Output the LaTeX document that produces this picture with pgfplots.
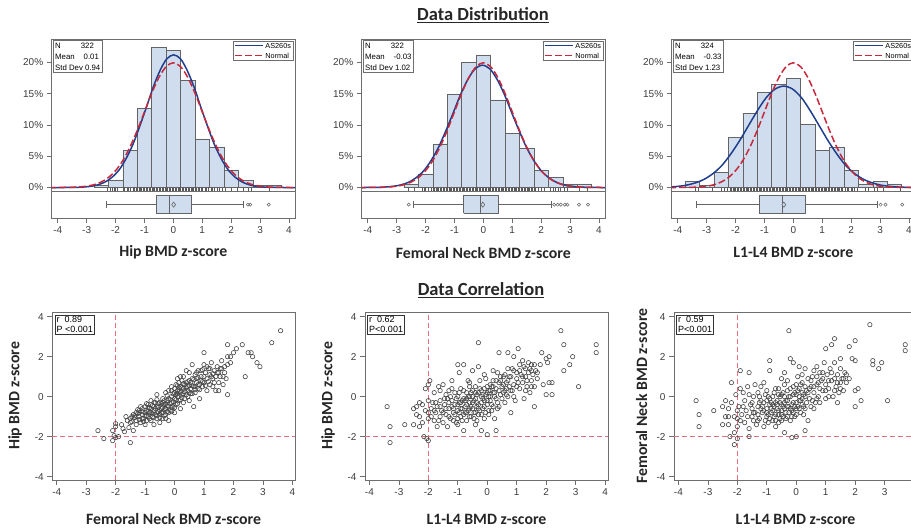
\documentclass[border=0pt]{standalone}
\usepackage{fontspec}
\setmainfont{Liberation Sans}
\newfontfamily\calib{Carlito}
\usepackage{pgfplots}
\usepackage{pgfplotstable}
\pgfplotsset{compat=1.18}

\definecolor{barfill}{RGB}{207,221,238}
\definecolor{baredge}{RGB}{100,100,100}
\definecolor{fitblue}{RGB}{32,62,140}
\definecolor{refred}{RGB}{200,40,60}
\definecolor{refline}{RGB}{232,110,120}
\definecolor{framegray}{RGB}{110,110,110}
\definecolor{ticktext}{RGB}{60,60,60}

% normal reference N(0,1), percent per 0.5 bin
\pgfplotstableread{
x y
-4.3 0.00
-4.0 0.01
-3.5 0.04
-3.25 0.10
-3.0 0.22
-2.75 0.45
-2.5 0.88
-2.25 1.59
-2.0 2.70
-1.75 4.31
-1.5 6.48
-1.25 9.13
-1.0 12.10
-0.75 15.06
-0.5 17.60
-0.25 19.33
0 19.95
0.25 19.33
0.5 17.60
0.75 15.06
1.0 12.10
1.25 9.13
1.5 6.48
1.75 4.31
2.0 2.70
2.25 1.59
2.5 0.88
2.75 0.45
3.0 0.22
3.25 0.10
3.5 0.04
4.0 0.01
4.3 0.00
}\normref

\pgfplotstableread{
x y
-4.22 0.00
-3.75 0.01
-3.28 0.04
-3.04 0.11
-2.81 0.23
-2.58 0.48
-2.34 0.94
-2.11 1.69
-1.87 2.87
-1.64 4.59
-1.40 6.89
-1.17 9.71
-0.93 12.87
-0.70 16.02
-0.46 18.72
-0.23 20.56
0.01 21.22
0.25 20.56
0.48 18.72
0.72 16.02
0.95 12.87
1.19 9.71
1.42 6.89
1.66 4.59
1.89 2.87
2.13 1.69
2.36 0.94
2.60 0.48
2.83 0.23
3.07 0.11
3.30 0.04
3.77 0.01
4.24 0.00
}\fitA

\pgfplotstableread{
x y
-4.30 0.00
-4.11 0.01
-3.60 0.04
-3.35 0.10
-3.09 0.22
-2.84 0.44
-2.58 0.86
-2.33 1.56
-2.07 2.65
-1.82 4.23
-1.56 6.35
-1.31 8.95
-1.05 11.86
-0.80 14.76
-0.54 17.26
-0.29 18.95
-0.03 19.56
0.23 18.95
0.48 17.26
0.74 14.76
0.99 11.86
1.25 8.95
1.50 6.35
1.76 4.23
2.01 2.65
2.27 1.56
2.52 0.86
2.78 0.44
3.03 0.22
3.29 0.10
3.54 0.04
4.05 0.01
4.30 0.00
}\fitB

\pgfplotstableread{
x y
-4.33 0.08
-4.02 0.18
-3.71 0.37
-3.41 0.72
-3.10 1.29
-2.79 2.20
-2.48 3.50
-2.18 5.27
-1.87 7.42
-1.56 9.84
-1.25 12.24
-0.95 14.31
-0.64 15.72
-0.33 16.22
-0.02 15.72
0.29 14.31
0.59 12.24
0.90 9.84
1.21 7.42
1.52 5.27
1.82 3.50
2.13 2.20
2.44 1.29
2.75 0.72
3.05 0.37
3.36 0.18
3.67 0.08
3.98 0.03
4.28 0.01
}\fitC

\pgfplotstableread{
fn hip
-2.6 -1.7
-2.4 -2.1
-2.1 -2.2
-2.05 -1.95
-2.0 -2.05
-1.9 -2.0
-2.1 -1.7
-2.0 -1.5
-2.0 -1.35
-1.8 -1.4
-1.75 -1.6
-1.7 -1.75
-1.5 -2.3
-1.4 -1.7
-1.5 -1.3
-1.5 -1.1
-1.45 -1.0
-1.4 -0.9
-1.3 -1.2
-1.3 -0.8
-1.25 -0.65
-1.2 -1.0
-1.2 -0.7
-1.15 -1.3
-1.1 -0.9
-1.1 -0.6
-1.05 -1.1
-1.0 -0.8
-1.0 -1.4
-1.0 -0.5
-0.95 -0.7
-0.9 -1.0
-0.9 -0.4
-0.85 -0.8
-0.8 -1.2
-0.8 -0.6
-0.8 -0.2
-0.75 -1.0
-0.7 -0.7
-0.7 -0.3
-0.7 -1.4
-0.65 -0.9
-0.6 -0.5
-0.6 -1.1
-0.6 0.1
-0.55 -0.75
-0.5 -0.3
-0.5 -0.9
-0.5 -1.3
-0.45 -0.6
-0.4 -0.1
-0.4 -0.8
-0.4 -1.1
-0.35 -0.4
-0.3 0.2
-0.3 -0.6
-0.3 -0.9
-0.25 -0.2
-0.2 -0.5
-0.2 0.3
-0.2 -1.2
-0.15 -0.7
-0.1 -0.3
-0.1 0.0
-0.1 0.5
-0.05 -0.5
0.0 -0.1
0.0 0.2
0.0 -0.8
0.05 0.6
0.05 -0.4
0.1 0.0
0.1 0.3
0.1 0.9
0.15 -0.2
0.2 0.5
0.2 -0.6
0.25 0.1
0.25 0.8
0.3 0.4
0.3 -0.3
0.35 0.6
0.4 0.1
0.4 1.3
0.45 0.5
0.5 0.2
0.5 0.8
0.5 -0.2
0.55 0.4
0.6 0.9
0.6 1.6
0.65 0.5
0.65 -0.5
0.7 0.2
0.7 1.1
0.75 0.7
0.8 0.4
0.8 1.3
0.85 -0.1
0.9 0.8
0.9 1.0
0.95 0.5
1.0 1.6
1.0 2.2
1.0 0.7
1.05 1.2
1.1 0.9
1.1 0.3
1.15 1.4
1.2 0.6
1.2 1.1
1.25 1.7
1.3 0.9
1.3 0.5
1.35 1.3
1.4 1.0
1.4 0.3
1.45 1.5
1.5 1.2
1.5 0.7
1.55 1.0
1.6 1.4
1.6 1.8
1.7 1.2
1.7 1.5
1.75 0.9
1.8 2.6
1.8 2.0
1.8 1.6
1.8 0.1
1.9 2.0
1.9 1.7
2.0 2.2
2.1 2.4
2.3 2.6
2.4 1.0
2.5 2.2
2.6 2.2
2.65 2.0
2.8 1.7
2.9 1.5
3.3 2.7
3.6 3.3
-1.2 -0.8
-1.1 -1.1
-1.0 -0.95
-0.9 -0.75
-0.85 -0.55
-0.75 -0.85
-0.7 -0.5
-0.65 -0.3
-0.55 -0.55
-0.5 -0.7
-0.45 -0.35
-0.4 -0.55
-0.35 -0.2
-0.3 -0.35
-0.25 -0.75
-0.2 -0.1
-0.15 -0.35
-0.1 -0.55
-0.05 0.15
0.0 0.4
0.05 -0.15
0.1 0.15
0.15 0.45
0.2 0.2
0.25 -0.05
0.3 0.65
0.35 0.25
0.4 0.45
0.45 0.75
0.55 0.15
0.6 0.55
0.7 0.5
0.75 0.9
0.85 0.6
-1.35 -1.05
-1.25 -0.85
-1.15 -0.5
-0.95 -1.2
-0.6 -0.8
-0.35 -0.95
0.15 0.7
0.3 1.0
0.45 0.0
0.8 0.95
1.3 1.15
1.2 1.4
1.0 1.0
0.95 1.35
1.5 0.3
1.65 1.0
0.5 1.2
0.2 1.0
-0.1 0.3
-1.45 -1.25
-1.35 -0.95
-1.3 -1.4
-1.2 -1.15
-1.1 -0.75
-1.05 -1.25
-0.95 -0.95
-0.9 -0.55
-0.85 -1.1
-0.8 -0.8
-0.75 -0.45
-0.7 -1.05
-0.65 -0.6
-0.6 -0.95
-0.55 -0.35
-0.5 -1.05
-0.45 -0.8
-0.4 -0.3
-0.35 -0.65
-0.3 -1.1
-0.25 -0.45
-0.2 -0.8
-0.15 -0.15
-0.1 -0.75
-0.05 -0.25
0.0 -0.55
0.05 0.1
0.1 -0.35
0.15 0.25
0.2 -0.15
0.25 0.45
0.3 0.15
0.35 -0.1
0.4 0.7
0.45 0.3
0.5 0.55
0.55 0.7
0.6 0.15
0.65 0.85
0.7 0.35
0.75 1.2
0.8 0.6
0.85 0.35
0.9 1.3
0.95 0.75
1.05 0.55
1.1 1.5
1.15 0.75
1.25 1.0
1.35 0.7
1.45 1.2
1.55 1.4
1.65 0.6
-1.6 -1.2
-1.55 -1.55
-1.65 -1.0
-0.95 -0.35
-0.6 -0.15
-0.25 0.05
0.1 0.55
}\scatA

\pgfplotstableread{
ll hip
-3.4 -0.5
-3.3 -1.5
-3.3 -2.3
-2.8 -1.4
-2.5 -1.4
-2.5 -0.6
-2.4 -0.5
-2.4 -0.9
-2.3 -1.0
-2.3 -1.5
-2.2 -0.4
-2.2 -1.3
-2.15 -2.0
-2.05 -2.1
-2.0 -2.2
-2.1 0.4
-2.0 0.6
-1.95 0.8
-2.0 -0.2
-2.0 -0.8
-2.0 -1.1
-1.9 -0.6
-1.85 -0.3
-1.8 -1.2
-1.8 0.2
-1.75 -0.8
-1.7 -1.5
-1.7 -0.5
-1.65 0.5
-1.6 -1.0
-1.6 -0.2
-1.55 -0.7
-1.5 0.6
-1.5 -1.3
-1.45 -0.4
-1.4 0.1
-1.4 -0.9
-1.35 -1.5
-1.3 -0.6
-1.3 0.3
-1.25 -1.1
-1.2 -0.2
-1.2 0.4
-1.15 -0.8
-1.1 -0.4
-1.1 0.2
-1.05 -1.3
-1.0 1.6
-1.0 -0.7
-1.0 0.0
-1.0 -1.4
-0.95 1.2
-0.95 -0.3
-0.9 -1.0
-0.9 0.4
-0.85 -0.6
-0.8 1.6
-0.8 -0.1
-0.8 -1.7
-0.75 -0.8
-0.7 0.2
-0.7 -0.4
-0.7 -1.2
-0.65 0.8
-0.6 -0.6
-0.6 0.0
-0.55 -1.0
-0.5 0.3
-0.5 -0.3
-0.5 1.3
-0.45 -0.8
-0.4 -0.1
-0.4 0.5
-0.4 -1.4
-0.35 -0.5
-0.3 2.7
-0.3 0.2
-0.3 -0.9
-0.3 1.5
-0.25 0.8
-0.2 -0.3
-0.2 -1.7
-0.2 0.0
-0.15 -0.6
-0.1 0.4
-0.1 -1.1
-0.05 0.9
0.0 -1.9
0.0 -0.2
0.0 0.2
0.05 -0.7
0.1 0.6
0.1 0.0
0.15 -0.4
0.2 0.8
0.2 0.2
0.25 -1.1
0.3 -1.7
0.3 0.4
0.3 -0.1
0.35 1.2
0.4 2.2
0.4 0.7
0.4 -0.5
0.45 0.1
0.5 0.5
0.55 1.0
0.6 -0.3
0.6 0.3
0.65 0.7
0.7 2.2
0.7 1.4
0.7 0.0
0.75 0.5
0.8 -0.8
0.8 1.0
0.85 0.3
0.9 2.0
0.9 1.3
0.9 0.6
0.95 -0.2
1.0 0.9
1.05 2.4
1.1 1.6
1.1 0.4
1.15 1.1
1.2 1.8
1.2 0.7
1.25 -0.1
1.3 1.4
1.3 1.0
1.35 0.5
1.4 1.7
1.4 1.2
1.45 0.2
1.5 1.6
1.5 0.8
1.55 1.1
1.6 1.6
1.6 -0.5
1.6 0.5
1.65 1.3
1.7 0.9
1.85 2.2
1.9 0.6
2.0 1.9
2.0 0.1
2.05 1.7
2.1 2.0
2.1 0.7
2.2 0.7
2.2 0.1
2.5 3.3
2.6 2.6
2.6 1.3
2.8 1.6
2.9 2.0
3.1 0.5
3.7 2.6
3.7 2.2
-1.3 -0.3
-1.2 -0.5
-1.1 -0.9
-1.0 -0.4
-0.9 -0.6
-0.85 -0.2
-0.8 -0.9
-0.75 -0.5
-0.7 -0.1
-0.65 -0.7
-0.6 -0.3
-0.55 0.2
-0.5 -0.6
-0.45 -0.2
-0.4 -0.8
-0.35 0.1
-0.3 -0.4
-0.25 -0.7
-0.2 0.3
-0.15 -0.1
-0.1 -0.5
-0.05 0.1
0.0 -0.4
0.05 0.3
0.1 -0.2
0.15 0.5
0.2 -0.5
0.25 0.2
-1.4 -0.6
-1.35 -0.1
-1.15 -1.2
-0.95 -0.8
-0.6 0.5
-0.35 -1.2
0.05 -0.9
0.35 -0.3
0.45 0.8
0.55 0.2
0.65 0.4
0.2 1.3
-0.1 1.1
-0.6 0.7
-1.6 -0.5
-1.8 -0.7
0.75 1.0
1.0 0.5
1.1 1.3
1.3 0.3
1.5 1.3
-1.9 -1.0
-1.75 -0.3
-1.65 -1.2
-1.5 -0.8
-1.45 -0.1
-1.3 -1.0
-1.25 0.0
-1.15 -0.6
-1.05 -0.1
-1.0 -1.1
-0.95 0.2
-0.9 -0.3
-0.85 -1.2
-0.8 0.3
-0.75 -0.2
-0.7 -0.8
-0.65 0.0
-0.6 -1.0
-0.55 -0.5
-0.5 0.0
-0.45 -1.1
-0.4 0.2
-0.35 -0.3
-0.3 -0.6
-0.25 0.4
-0.2 -0.9
-0.15 0.1
-0.1 -0.2
-0.05 -0.8
0.0 0.5
0.05 0.0
0.1 0.3
0.15 -0.7
0.2 0.5
0.25 0.0
0.3 0.8
0.35 -0.6
0.4 0.3
0.45 1.0
0.5 -0.1
0.55 0.6
0.6 1.1
0.65 0.1
0.7 0.8
0.8 0.3
0.85 1.4
0.9 0.0
1.0 1.2
1.05 0.7
1.2 1.0
1.25 1.5
1.35 0.8
1.45 1.4
1.5 0.5
1.7 1.2
1.8 1.6
-2.1 -0.7
-2.3 -0.3
-1.6 0.3
-1.2 0.8
}\scatB

\pgfplotstableread{
ll fn
-3.4 -0.2
-3.3 -0.9
-3.3 -1.5
-2.8 -0.7
-2.5 -0.5
-2.5 -1.4
-2.4 -1.0
-2.4 -0.2
-2.3 -1.4
-2.3 -0.6
-2.25 -2.0
-2.2 0.7
-2.2 -0.3
-2.1 -2.4
-2.1 -1.8
-2.05 0.1
-2.0 -2.1
-2.0 -1.5
-2.0 -1.1
-2.0 -0.7
-1.95 -0.5
-1.9 1.3
-1.9 0.4
-1.85 -0.9
-1.8 -0.5
-1.8 0.2
-1.75 -1.3
-1.7 -0.7
-1.65 0.5
-1.6 1.2
-1.6 -2.0
-1.6 -1.6
-1.55 -0.4
-1.5 -1.0
-1.45 0.0
-1.4 -0.8
-1.4 0.6
-1.35 -1.4
-1.3 -0.5
-1.3 0.2
-1.25 -1.1
-1.2 -0.2
-1.2 0.5
-1.15 -0.8
-1.1 -1.5
-1.1 -0.3
-1.05 0.1
-1.0 -1.0
-1.0 0.3
-1.0 -0.6
-0.95 -1.3
-0.9 1.8
-0.9 -0.4
-0.9 1.3
-0.85 -0.8
-0.8 0.0
-0.8 -1.2
-0.75 -0.5
-0.7 0.4
-0.7 -0.9
-0.7 -1.5
-0.65 -0.2
-0.6 -0.7
-0.6 0.1
-0.55 -1.1
-0.5 0.9
-0.5 -0.4
-0.5 -0.9
-0.45 0.2
-0.4 -1.8
-0.4 -0.6
-0.4 0.6
-0.35 -0.2
-0.3 -1.0
-0.3 0.3
-0.25 3.3
-0.25 -0.5
-0.2 1.9
-0.2 0.0
-0.2 -1.2
-0.15 -0.7
-0.1 1.7
-0.1 0.5
-0.1 -0.3
-0.05 -1.0
0.0 -2.0
-0.15 -2.05
0.0 0.1
0.0 -0.6
0.05 1.0
0.1 1.5
0.1 -0.2
0.1 0.4
0.15 -0.8
0.2 0.7
0.2 -0.4
0.25 0.1
0.3 1.4
0.3 -1.7
0.3 -0.6
0.35 0.3
0.4 -1.2
0.4 0.9
0.45 -0.1
0.5 0.5
0.5 -0.5
0.55 1.0
0.6 0.2
0.65 -0.3
0.7 1.5
0.7 0.6
0.75 0.0
0.8 1.2
0.8 -0.3
0.85 0.8
0.9 0.3
0.95 1.7
1.0 2.4
1.0 0.6
1.0 -0.1
1.05 1.1
1.1 0.4
1.15 1.4
1.2 2.6
1.2 0.8
1.25 0.0
1.3 2.9
1.3 1.7
1.35 0.5
1.4 -0.3
1.4 1.1
1.45 0.2
1.5 1.9
1.5 0.7
1.55 0.9
1.6 0.3
1.65 1.2
1.7 0.7
1.8 2.5
1.8 0.9
1.9 1.9
2.0 2.8
2.0 1.8
2.0 0.3
2.0 -0.5
2.1 0.4
2.2 -0.2
2.5 3.6
2.6 1.8
2.6 1.6
2.8 1.4
2.9 1.7
3.1 -0.2
3.7 2.6
3.7 2.3
-1.3 -0.9
-1.2 -0.6
-1.1 -0.7
-1.0 -0.2
-0.95 -0.9
-0.9 -0.1
-0.85 -0.6
-0.8 -0.4
-0.75 -1.0
-0.7 -0.3
-0.65 -0.6
-0.6 -1.3
-0.55 -0.3
-0.5 -0.7
-0.45 -1.0
-0.4 -0.3
-0.35 -0.8
-0.3 -0.5
-0.25 0.0
-0.2 -0.6
-0.15 -0.4
-0.1 -0.8
-0.05 0.2
0.0 -0.3
0.05 -0.5
0.1 0.0
0.15 -0.2
0.2 0.2
-1.5 -0.6
-1.45 -1.2
-1.25 -0.3
-0.6 0.4
-0.3 0.8
0.0 0.6
0.25 -0.9
0.45 0.4
0.6 -0.6
0.7 1.0
0.9 0.9
1.1 0.0
1.3 0.9
1.5 0.4
0.3 0.0
-0.5 0.1
-1.9 -1.2
-1.75 -0.2
-1.65 -1.0
-1.5 -0.3
-1.45 -0.8
-1.3 -1.2
-1.25 0.0
-1.15 -0.5
-1.05 -1.2
-1.0 -0.8
-0.95 0.0
-0.9 -1.1
-0.85 -0.3
-0.8 -0.7
-0.75 0.2
-0.7 -1.2
-0.65 -0.4
-0.6 -0.9
-0.55 0.0
-0.5 -1.2
-0.45 -0.5
-0.4 0.0
-0.35 -1.1
-0.3 -0.2
-0.25 -0.8
-0.2 0.4
-0.15 -1.0
-0.1 0.1
-0.05 -0.5
0.0 -0.9
0.05 0.3
0.1 -0.6
0.15 0.6
0.2 -0.1
0.25 -0.5
0.3 0.5
0.35 -0.3
0.4 0.2
0.5 0.8
0.55 -0.2
0.6 0.5
0.7 -0.1
0.75 0.7
0.8 0.4
0.9 1.2
1.0 0.3
1.1 0.8
1.2 1.2
1.3 0.3
1.4 0.7
1.5 1.4
1.6 0.9
1.7 1.1
-2.1 -1.0
-2.3 -1.0
-1.6 0.1
-1.1 0.7
-0.4 1.2
0.2 1.1
0.6 1.3
}\scatC

\pgfplotsset{
  base/.style={
    scale only axis,
    axis line style={framegray, line width=0.6pt},
    tick style={framegray, line width=0.6pt},
    major tick length=5pt,
    tick align=outside,
    ticklabel style={font=\fontsize{10}{12}\selectfont, text=ticktext},
    /pgf/number format/assume math mode=true,
  },
  hist/.style={
    base,
    width=243.3pt, height=151.7pt,
    xmin=-4.21, xmax=4.21, ymin=-0.55, ymax=23.7,
    xtick=\empty,
    ytick={0,5,10,15,20},
    ytick pos=left,
    yticklabel={\pgfmathprintnumber{\tick}\%},
  },
  boxax/.style={
    base,
    width=243.3pt, height=27.3pt,
    xmin=-4.21, xmax=4.21, ymin=0, ymax=1,
    ytick=\empty,
    xtick={-4,...,4},
    xtick pos=bottom,
  },
  scat/.style={
    base,
    width=243pt, height=167.7pt,
    xmin=-4.15, xmax=4.1, ymin=-4.17, ymax=4.22,
    xtick={-4,...,4}, ytick={-4,-2,0,2,4},
    xtick pos=bottom, ytick pos=left,
  },
  bars/.style={ybar, bar width=0.5, fill=barfill, draw=baredge, line width=0.5pt, forget plot},
  rug/.style={only marks, mark=|, mark size=1.6pt, draw=gray!70!black, mark options={line width=0.35pt}, forget plot},
  fitline/.style={draw=fitblue, line width=1.5pt, smooth},
  refcurve/.style={draw=refred, line width=1.5pt, smooth, dash pattern=on 7pt off 3pt},
  boxfill/.style={fill=barfill, draw=baredge, line width=0.5pt},
  whisk/.style={draw=baredge, line width=0.5pt},
  outl/.style={only marks, mark=o, mark size=1.6pt, mark options={draw=baredge, line width=0.5pt}},
  meanmk/.style={only marks, mark=diamond*, mark size=2.6pt, mark options={draw=baredge, fill=barfill, line width=0.6pt}},
  pts/.style={only marks, mark=o, mark size=2.2pt, mark options={draw=black!72, line width=0.6pt}},
  cut/.style={draw=refline, line width=1pt, dash pattern=on 5pt off 3pt},
}
\tikzset{
  lab/.style={font=\calib\bfseries\fontsize{15.8}{18}\selectfont, text=black!85},
  legbox/.style={draw=framegray, line width=0.6pt, fill=white, anchor=north east, inner sep=2pt,
    align=left, font=\fontsize{7.3}{10}\selectfont},
}
% legend keys: solid blue and dashed red samples
\newcommand{\bluekey}{\textcolor{fitblue}{\rule[2pt]{28pt}{1.5pt}}}
\newcommand{\redkey}{\textcolor{refred}{\rule[2pt]{7pt}{1.5pt}\hspace{3pt}\rule[2pt]{7pt}{1.5pt}\hspace{3pt}\rule[2pt]{7pt}{1.5pt}}}
\newcommand{\legtext}{\bluekey\hspace{2pt}AS260s\\\redkey\hspace{3pt}Normal}

\begin{document}
\begin{tikzpicture}
\useasboundingbox (0pt,0pt) rectangle (911pt,-529pt);
\clip (0pt,0pt) rectangle (911pt,-529pt);

\node[font=\calib\bfseries\fontsize{18.5}{21}\selectfont, text=black!85] at (483pt,-15pt) {\underline{Data Distribution}};
\node[font=\calib\bfseries\fontsize{18.5}{21}\selectfont, text=black!85] at (481pt,-290pt) {\underline{Data Correlation}};

% ---------- Hip histogram
\begin{axis}[hist, at={(51.7pt,-39.3pt)}, anchor=north west]
\addplot[bars] coordinates {(-2.5,0.3) (-2,1.1) (-1.5,5.9) (-1,12.7) (-0.5,22.4) (0,21.9) (0.5,17.1) (1,7.8) (1.5,6.5) (2,2.8) (2.5,1.2) (3,0.3) (3.5,0.3)};
\addplot[rug] table[x=hip, y expr=-0.27] {\scatA};
\addplot[fitline] table[x=x, y=y] {\fitA};
\addplot[refcurve] table[x=x, y=y] {\normref};
\node[draw=framegray, line width=0.6pt, fill=white, anchor=north west, inner sep=2pt, align=left,
  font=\fontsize{7.8}{11}\selectfont] at (rel axis cs:0.005,0.993)
  {N\hspace{20pt}322\\Mean\hspace{9pt}0.01\\Std Dev 0.94};
\node[legbox] at (rel axis cs:0.993,0.99) {\legtext};
\end{axis}
\begin{axis}[boxax, at={(51.7pt,-191pt)}, anchor=north west]
\addplot[whisk] coordinates {(-2.32,0.5) (-0.60,0.5)};
\addplot[whisk] coordinates {(0.61,0.5) (2.41,0.5)};
\addplot[whisk] coordinates {(-2.32,0.36) (-2.32,0.64)};
\addplot[whisk] coordinates {(2.41,0.36) (2.41,0.64)};
\addplot[boxfill] coordinates {(-0.60,0.18) (0.61,0.18) (0.61,0.83) (-0.60,0.83) (-0.60,0.18)};
\addplot[whisk] coordinates {(-0.13,0.18) (-0.13,0.83)};
\addplot[meanmk] coordinates {(0.01,0.5)};
\addplot[outl] coordinates {(2.58,0.5) (2.66,0.5) (3.30,0.5)};
\end{axis}

% ---------- Femoral neck histogram
\begin{axis}[hist, at={(361.7pt,-39.3pt)}, anchor=north west]
\addplot[bars] coordinates {(-2.5,0.6) (-2,2.1) (-1.5,6.9) (-1,14.9) (-0.5,20.0) (0,21.2) (0.5,14.0) (1,8.7) (1.5,6.3) (2,2.8) (2.5,1.6) (3,0.6) (3.5,0.6)};
\addplot[rug] table[x=fn, y expr=-0.27] {\scatA};
\addplot[fitline] table[x=x, y=y] {\fitB};
\addplot[refcurve] table[x=x, y=y] {\normref};
\node[draw=framegray, line width=0.6pt, fill=white, anchor=north west, inner sep=2pt, align=left,
  font=\fontsize{7.8}{11}\selectfont] at (rel axis cs:0.005,0.993)
  {N\hspace{20pt}322\\Mean\hspace{9pt}-0.03\\Std Dev 1.02};
\node[legbox] at (rel axis cs:0.993,0.99) {\legtext};
\end{axis}
\begin{axis}[boxax, at={(361.7pt,-191pt)}, anchor=north west]
\addplot[whisk] coordinates {(-2.43,0.5) (-0.68,0.5)};
\addplot[whisk] coordinates {(0.50,0.5) (2.34,0.5)};
\addplot[whisk] coordinates {(-2.43,0.36) (-2.43,0.64)};
\addplot[whisk] coordinates {(2.34,0.36) (2.34,0.64)};
\addplot[boxfill] coordinates {(-0.68,0.18) (0.50,0.18) (0.50,0.83) (-0.68,0.83) (-0.68,0.18)};
\addplot[whisk] coordinates {(-0.11,0.18) (-0.11,0.83)};
\addplot[meanmk] coordinates {(-0.02,0.5)};
\addplot[outl] coordinates {(-2.58,0.5) (2.45,0.5) (2.57,0.5) (2.68,0.5) (2.82,0.5) (2.91,0.5) (3.31,0.5) (3.62,0.5)};
\end{axis}

% ---------- L1-L4 histogram
\begin{axis}[hist, at={(671.7pt,-39.3pt)}, anchor=north west]
\addplot[bars] coordinates {(-3.5,1.0) (-3,0.3) (-2.5,2.4) (-2,8.05) (-1.5,11.8) (-1,15.25) (-0.5,16.5) (0,17.5) (0.5,10.1) (1,5.9) (1.5,6.45) (2,2.8) (2.5,0.6) (3,1.0) (3.5,0.6)};
\addplot[rug] table[x=ll, y expr=-0.27] {\scatB};
\addplot[fitline] table[x=x, y=y] {\fitC};
\addplot[refcurve] table[x=x, y=y] {\normref};
\node[draw=framegray, line width=0.6pt, fill=white, anchor=north west, inner sep=2pt, align=left,
  font=\fontsize{7.8}{11}\selectfont] at (rel axis cs:0.005,0.993)
  {N\hspace{20pt}324\\Mean\hspace{9pt}-0.33\\Std Dev 1.23};
\node[legbox] at (rel axis cs:0.993,0.99) {\legtext};
\end{axis}
\begin{axis}[boxax, at={(671.7pt,-191pt)}, anchor=north west]
\addplot[whisk] coordinates {(-3.37,0.5) (-1.18,0.5)};
\addplot[whisk] coordinates {(0.40,0.5) (2.91,0.5)};
\addplot[whisk] coordinates {(-3.37,0.36) (-3.37,0.64)};
\addplot[whisk] coordinates {(2.91,0.36) (2.91,0.64)};
\addplot[boxfill] coordinates {(-1.18,0.18) (0.40,0.18) (0.40,0.83) (-1.18,0.83) (-1.18,0.18)};
\addplot[whisk] coordinates {(-0.40,0.18) (-0.40,0.83)};
\addplot[meanmk] coordinates {(-0.33,0.5)};
\addplot[outl] coordinates {(3.02,0.5) (3.19,0.5) (3.77,0.5)};
\end{axis}

\node[lab] at (173.3pt,-252.7pt) {Hip BMD z-score};
\node[lab] at (483.3pt,-252.7pt) {Femoral Neck BMD z-score};
\node[lab] at (793.3pt,-252.7pt) {L1-L4 BMD z-score};

% ---------- scatter plots
\begin{axis}[scat, at={(52.3pt,-312.3pt)}, anchor=north west]
\addplot[cut] coordinates {(-2,-4.17) (-2,4.22)};
\addplot[cut] coordinates {(-4.15,-2) (4.1,-2)};
\addplot[pts] table[x=fn, y=hip] {\scatA};
\node[draw=black!80, line width=0.6pt, fill=white, anchor=north west, inner sep=1.5pt, align=left,
  font=\fontsize{9}{10}\selectfont] at (rel axis cs:0.01,0.985) {r\ \ 0.89\\P <0.001};
\end{axis}
\begin{axis}[scat, at={(365pt,-312.3pt)}, anchor=north west]
\addplot[cut] coordinates {(-2,-4.17) (-2,4.22)};
\addplot[cut] coordinates {(-4.15,-2) (4.1,-2)};
\addplot[pts] table[x=ll, y=hip] {\scatB};
\node[draw=black!80, line width=0.6pt, fill=white, anchor=north west, inner sep=1.5pt, align=left,
  font=\fontsize{9}{10}\selectfont] at (rel axis cs:0.01,0.985) {r\ \ 0.62\\P<0.001};
\end{axis}
\begin{axis}[scat, at={(674pt,-312.3pt)}, anchor=north west]
\addplot[cut] coordinates {(-2,-4.17) (-2,4.22)};
\addplot[cut] coordinates {(-4.15,-2) (4.1,-2)};
\addplot[pts] table[x=ll, y=fn] {\scatC};
\node[draw=black!80, line width=0.6pt, fill=white, anchor=north west, inner sep=1.5pt, align=left,
  font=\fontsize{9}{10}\selectfont] at (rel axis cs:0.01,0.985) {r\ \ 0.59\\P<0.001};
\end{axis}

\node[lab] at (173.6pt,-519pt) {Femoral Neck BMD z-score};
\node[lab] at (486.5pt,-519pt) {L1-L4 BMD z-score};
\node[lab] at (795.5pt,-519pt) {L1-L4 BMD z-score};
\node[lab, rotate=90] at (15pt,-396pt) {Hip BMD z-score};
\node[lab, rotate=90] at (328pt,-396pt) {Hip BMD z-score};
\node[lab, rotate=90] at (641.7pt,-396pt) {Femoral Neck BMD z-score};
\end{tikzpicture}
\end{document}
